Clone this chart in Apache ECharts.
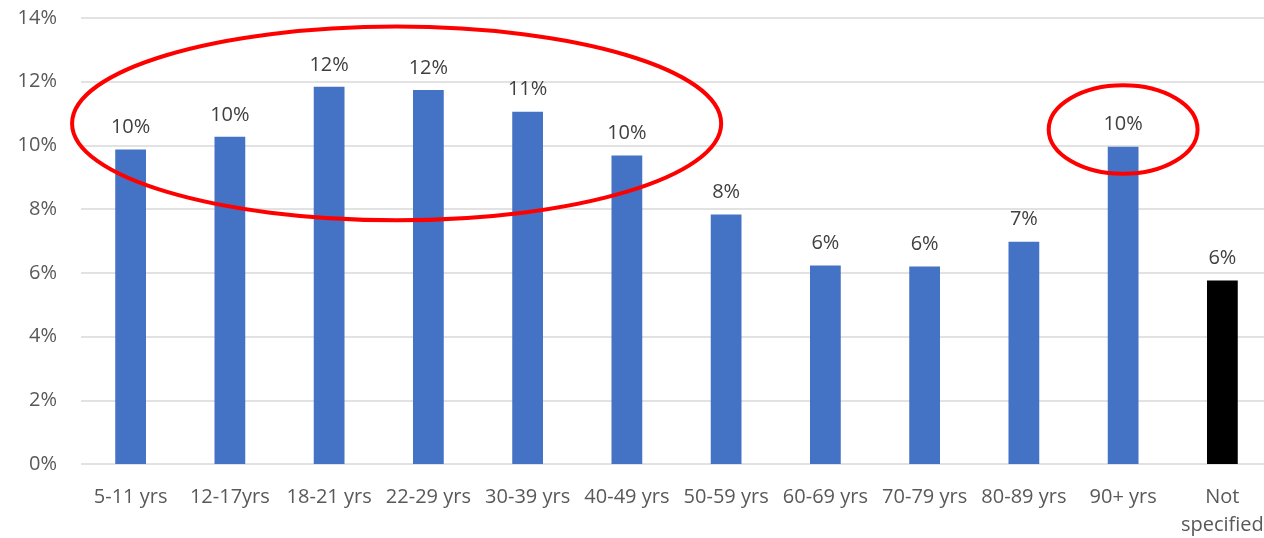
<!DOCTYPE html>
<html>
<head>
<meta charset="utf-8">
<script src="https://cdn.jsdelivr.net/npm/echarts@6/dist/echarts.min.js"></script>
<style>
  html, body { margin: 0; padding: 0; background: #fff; }
  #chart { width: 1264px; height: 538px; }
</style>
</head>
<body>
<div id="chart"></div>
<script>
// age groups and share of cases (%)
const categories = ['5-11 yrs', '12-17yrs', '18-21 yrs', '22-29 yrs', '30-39 yrs', '40-49 yrs',
  '50-59 yrs', '60-69 yrs', '70-79 yrs', '80-89 yrs', '90+ yrs', 'Not\nspecified']
const values = [9.87, 10.27, 11.84, 11.74, 11.06, 9.68, 7.83, 6.23, 6.20, 6.98, 9.96, 5.76]
const barColors = ['#4472C4', '#4472C4', '#4472C4', '#4472C4', '#4472C4', '#4472C4',
  '#4472C4', '#4472C4', '#4472C4', '#4472C4', '#4472C4', '#000000']
const yTicks = [0, 2, 4, 6, 8, 10, 12, 14]

// highlight ellipses, given in axis units: [centre category idx, centre value, half width (cats), half height (%)]
const highlights = [
  [2.68, 10.69, 3.27, 3.04],
  [10.0, 10.5, 0.75, 1.39],
]

const font = 'Open Sans, Liberation Sans, sans-serif'
const chart = echarts.init(document.getElementById('chart'))

chart.setOption({
  animation: false,
  grid: { left: 81, right: -8, top: 18, bottom: 74, outerBoundsMode: 'none' },
  xAxis: {
    type: 'category',
    data: categories,
    axisLine: { show: false },
    axisTick: { show: false },
    axisLabel: {
      color: '#595959', fontSize: 20, fontFamily: font, margin: 19,
      interval: 0, lineHeight: 28,
    },
  },
  yAxis: {
    type: 'value',
    min: yTicks[0],
    max: yTicks[yTicks.length - 1],
    interval: 2,
    axisLabel: {
      color: '#595959', fontSize: 20, fontFamily: font, margin: 24,
      formatter: (v) => v + '%',
    },
    splitLine: { lineStyle: { color: '#d9d9d9', width: 1.5 } },
  },
  series: [
    {
      type: 'bar',
      barWidth: '31%',
      data: values.map((v, i) => ({ value: v, itemStyle: { color: barColors[i] } })),
      label: {
        show: true,
        position: 'top',
        distance: 12,
        color: '#404040',
        fontSize: 20,
        fontFamily: font,
        formatter: (p) => Math.round(p.value) + '%',
      },
    },
  ],
})

// ellipses positioned via the axes
const xPix = (c) => chart.convertToPixel({ xAxisIndex: 0 }, 0) +
  c * (chart.convertToPixel({ xAxisIndex: 0 }, 1) - chart.convertToPixel({ xAxisIndex: 0 }, 0))
const yPix = (v) => chart.convertToPixel({ yAxisIndex: 0 }, v)
const catW = xPix(1) - xPix(0)
const unitH = yPix(0) - yPix(1)

chart.setOption({
  graphic: highlights.map((h) => ({
    type: 'ellipse',
    shape: { cx: xPix(h[0]), cy: yPix(h[1]), rx: h[2] * catW, ry: h[3] * unitH },
    style: { fill: 'none', stroke: '#ff0000', lineWidth: 4 },
    z: 100,
  })),
})
</script>
</body>
</html>
